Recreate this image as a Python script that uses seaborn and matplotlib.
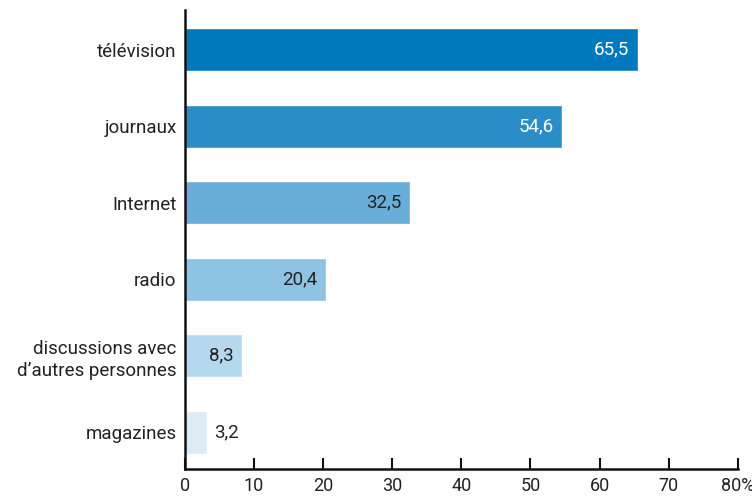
import matplotlib
matplotlib.use("Agg")
import matplotlib.pyplot as plt
import seaborn as sns
import pandas as pd

categories = ["télévision", "journaux", "Internet", "radio",
              "discussions avec\nd’autres personnes", "magazines"]
values = [65.5, 54.6, 32.5, 20.4, 8.3, 3.2]
labels = ["65,5", "54,6", "32,5", "20,4", "8,3", "3,2"]
colors = ["#0079BE", "#2A8DC8", "#69AED8", "#8FC3E3", "#B6D8EE", "#DCEBF6"]
xticks = [0, 10, 20, 30, 40, 50, 60, 70, 80]
xticklabels = ["0", "10", "20", "30", "40", "50", "60", "70", "80%"]

sns.set_style("white")
plt.rcParams['font.family'] = ['Roboto', 'DejaVu Sans']

FS = 13.5
df = pd.DataFrame({"cat": categories, "val": values})

fig = plt.figure(figsize=(7.52, 4.96), dpi=100)
ax = fig.add_axes([0.246, 0.0544, 0.735, 0.9256])
sns.barplot(data=df, y="cat", x="val", hue="cat", palette=colors,
            orient="h", width=0.56, legend=False, ax=ax, saturation=1)

ax.set_xlim(0, 80)
ax.set_ylim(5.48, -0.52)
ax.set_xlabel("")
ax.set_ylabel("")
ax.set_xticks(xticks)
ax.set_xticklabels(xticklabels)
ax.tick_params(axis="x", bottom=True, direction="in", length=8, width=1.5,
               color="#111", labelsize=13, labelcolor="#222", pad=6)
ax.tick_params(axis="y", left=False, length=0, labelsize=FS,
               labelcolor="#222", pad=6)
for lab in ax.get_yticklabels():
    lab.set_horizontalalignment("right")
    lab.set_linespacing(1.3)
for s in ["top", "right"]:
    ax.spines[s].set_visible(False)
for s in ["left", "bottom"]:
    ax.spines[s].set_color("#111")
    ax.spines[s].set_linewidth(1.8)

for i, (v, l) in enumerate(zip(values, labels)):
    if i < 2:
        ax.text(v - 1.2, i, l, ha="right", va="center", color="white", fontsize=FS)
    elif v > 5:
        ax.text(v - 1.2, i, l, ha="right", va="center", color="#222", fontsize=FS)
    else:
        ax.text(v + 1.0, i, l, ha="left", va="center", color="#222", fontsize=FS)

fig.savefig("out.png", dpi=100)
